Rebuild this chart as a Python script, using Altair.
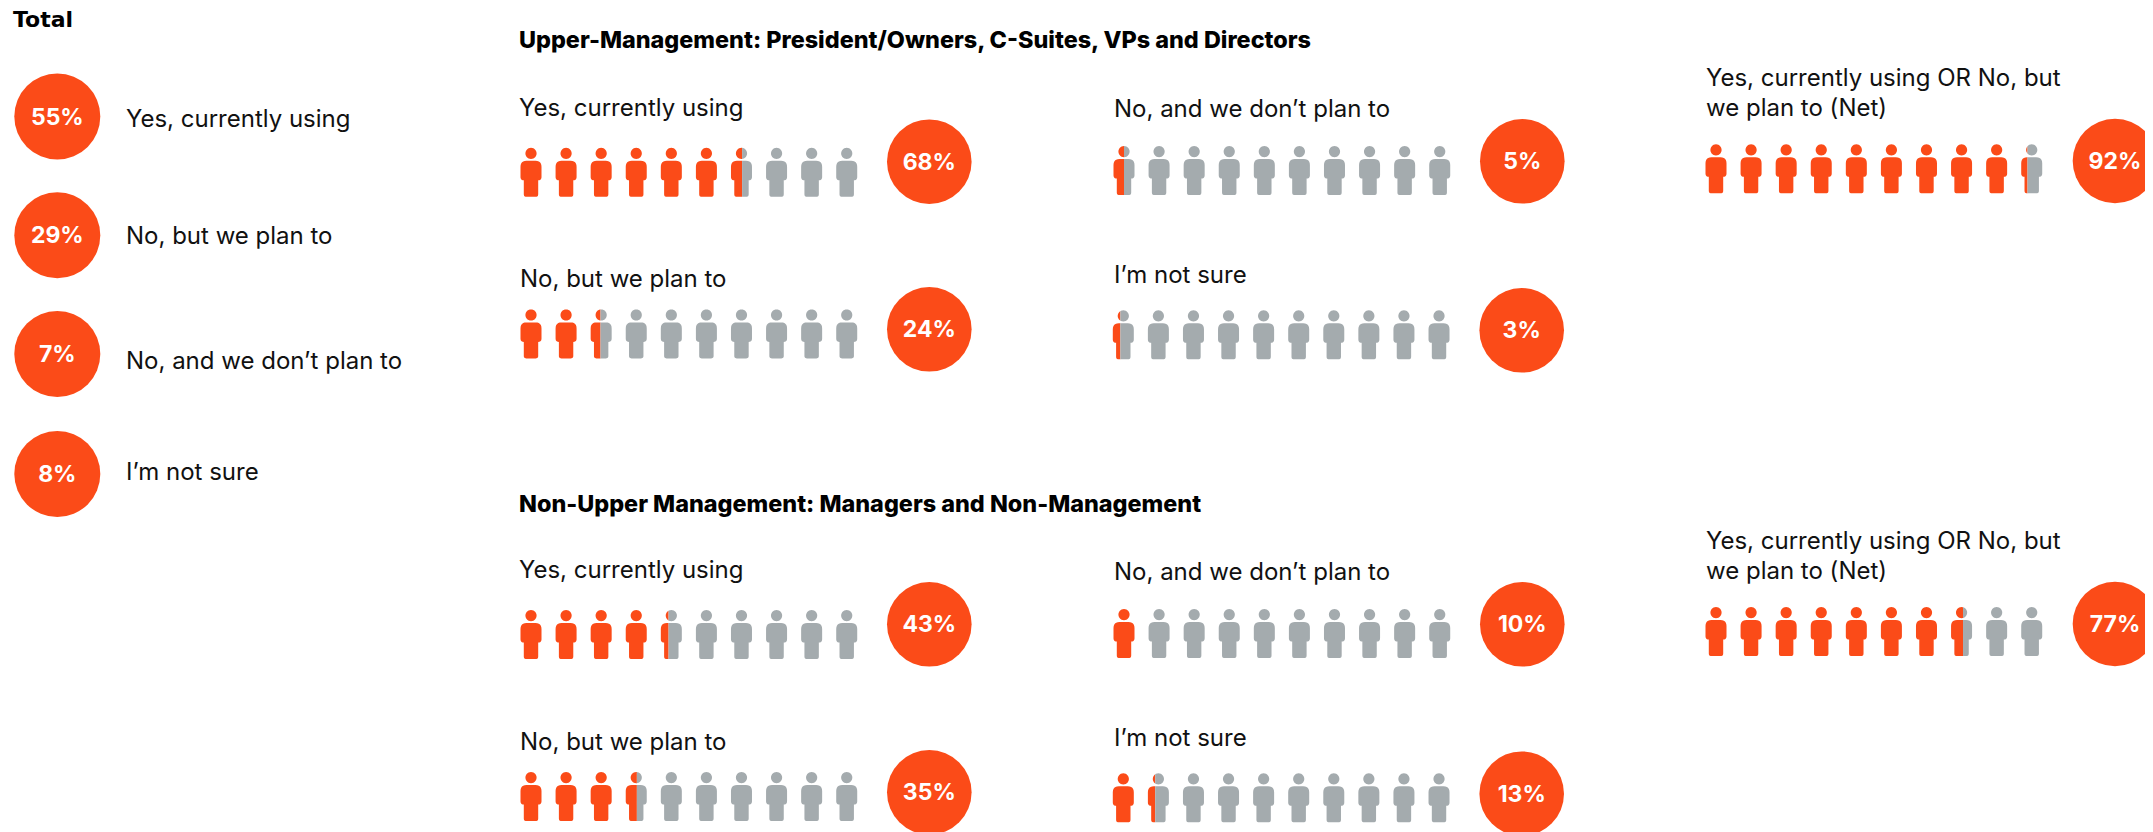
import math
import altair as alt
import pandas as pd

# ---------- values ----------
total_labels = ["Yes, currently using", "No, but we plan to", "No, and we don\u2019t plan to", "I\u2019m not sure"]
total_values = [55, 29, 7, 8]

group_titles = ["Upper-Management: President/Owners, C-Suites, VPs and Directors",
                "Non-Upper Management: Managers and Non-Management"]
panel_labels = ["Yes, currently using", "No, but we plan to", "No, and we don\u2019t plan to",
                "I\u2019m not sure", "Yes, currently using OR No, but|we plan to (Net)"]
upper_values = [68, 24, 5, 3, 92]
lower_values = [43, 35, 10, 13, 77]
# how many figures are orange (whole part) and how far the split figure is filled
upper_filled = [6.53, 2.47, 0.50, 0.36, 9.30]
lower_filled = [4.37, 3.53, 1.00, 1.35, 7.57]

# ---------- layout (kept apart from the values) ----------
ORANGE, GREY, INK = "#FB4B18", "#A4ABAE", "#111111"
FONT = "Inter"
W, H = 2137, 824
N_FIG, STEP = 10, 35.08
FIG_H = 49.0

# fig_x, head_top, circle_x, circle_y, label_x, label_baseline
upper_layout = [(531, 147.8, 929.3, 161.7, 519, 115.5),
                (531, 309.4, 929.3, 329.3, 520, 287),
                (1124, 146, 1522.3, 161.3, 1114, 117),
                (1123.3, 310.3, 1521.7, 330.3, 1114, 283),
                (1716, 144.3, 2115, 161, 1706, 85.5)]
lower_layout = [(531, 610, 929.3, 624.3, 519, 578),
                (531, 772, 929.3, 792.3, 520, 750),
                (1124, 609, 1522.3, 624.3, 1114, 580),
                (1123.3, 773.3, 1521.7, 793.7, 1114, 746),
                (1716, 607, 2115, 624, 1706, 549)]
title_pos = [(519, 48), (519, 512)]
total_y = [116.5, 235.3, 354, 474]
total_base = [126.5, 244, 368.5, 479.5]
LINE = 30


def rounded(corners, seg=6):
    pts = []
    n = len(corners)
    for i, (x, y, r) in enumerate(corners):
        if r == 0:
            pts.append((x, y))
            continue
        px, py, _ = corners[i - 1]
        qx, qy, _ = corners[(i + 1) % n]
        a = math.hypot(px - x, py - y)
        b = math.hypot(qx - x, qy - y)
        s = (x + (px - x) / a * r, y + (py - y) / a * r)
        e = (x + (qx - x) / b * r, y + (qy - y) / b * r)
        for k in range(seg + 1):
            t = k / seg
            pts.append(((1 - t) ** 2 * s[0] + 2 * t * (1 - t) * x + t ** 2 * e[0],
                        (1 - t) ** 2 * s[1] + 2 * t * (1 - t) * y + t ** 2 * e[1]))
    return pts


HEAD = [(5.6 * math.cos(2 * math.pi * k / 28), 5.6 + 5.6 * math.sin(2 * math.pi * k / 28)) for k in range(28)]
BODY = rounded([(-10.5, 13, 6), (10.5, 13, 6), (10.5, 32.5, 3.3), (7.2, 32.5, 0), (7.2, 49, 2.5),
                (-7.2, 49, 2.5), (-7.2, 32.5, 0), (-10.5, 32.5, 3.3)])


def clip(poly, c, keep_left):
    inside = (lambda p: p[0] <= c) if keep_left else (lambda p: p[0] >= c)
    out = []
    for i, p in enumerate(poly):
        q = poly[i - 1]
        if inside(p) != inside(q):
            t = (c - q[0]) / (p[0] - q[0])
            out.append((c, q[1] + t * (p[1] - q[1])))
        if inside(p):
            out.append(p)
    return out


def to_path(polys):
    parts = []
    for poly in polys:
        if len(poly) > 2:
            parts.append("M" + "L".join(f"{x / (FIG_H / 2):.4f},{(y - FIG_H / 2) / (FIG_H / 2):.4f}" for x, y in poly) + "Z")
    return "".join(parts)


FULL = to_path([HEAD, BODY])
fig_rows, circle_rows, label_rows = [], [], []


def add_panel(layout, label, value, filled):
    fx, top, cx, cy, lx, lb = layout
    cy_fig = top + FIG_H / 2
    for i in range(N_FIG):
        x = fx + i * STEP
        share = min(max(filled - i, 0), 1)
        if share >= 1:
            fig_rows.append(dict(x=x, y=cy_fig, state="on", path=FULL))
        elif share <= 0:
            fig_rows.append(dict(x=x, y=cy_fig, state="off", path=FULL))
        else:
            c = -10.5 + 21 * share
            fig_rows.append(dict(x=x, y=cy_fig, state="on", path=to_path([clip(HEAD, c, True), clip(BODY, c, True)])))
            fig_rows.append(dict(x=x, y=cy_fig, state="off", path=to_path([clip(HEAD, c, False), clip(BODY, c, False)])))
    circle_rows.append(dict(x=cx, y=cy, d=84.6 ** 2, pct=f"{value}%"))
    for j, line in enumerate(label.split("|")):
        label_rows.append(dict(x=lx, y=lb + j * LINE, text=line))


for k in range(5):
    add_panel(upper_layout[k], panel_labels[k], upper_values[k], upper_filled[k])
    add_panel(lower_layout[k], panel_labels[k], lower_values[k], lower_filled[k])

for lab, val, y, b in zip(total_labels, total_values, total_y, total_base):
    circle_rows.append(dict(x=57.3, y=y, d=86.0 ** 2, pct=f"{val}%"))
    label_rows.append(dict(x=126, y=b, text=lab))

title_rows = [dict(x=x, y=y, text=t) for (x, y), t in zip(title_pos, group_titles)]
total_title = [dict(x=13, y=27, text="Total")]

X = alt.X("x:Q", axis=None, scale=alt.Scale(domain=[8, 8 + W], nice=False, zero=False))
Y = alt.Y("y:Q", axis=None, scale=alt.Scale(domain=[8 + H, 8], nice=False, zero=False))

figures = alt.Chart(pd.DataFrame(fig_rows)).mark_point(filled=True, opacity=1, size=FIG_H ** 2, strokeWidth=0).encode(
    x=X, y=Y,
    shape=alt.Shape("path:N", scale=None),
    color=alt.Color("state:N", scale=alt.Scale(domain=["on", "off"], range=[ORANGE, GREY]), legend=None),
)
circle_df = pd.DataFrame(circle_rows)
circles = alt.Chart(circle_df).mark_circle(color=ORANGE, opacity=1).encode(
    x=X, y=Y, size=alt.Size("d:Q", scale=None))
pct = alt.Chart(circle_df).mark_text(font=FONT, fontWeight=700, fontSize=23, color="white", dy=1,
                                     align="center", baseline="middle").encode(x=X, y=Y, text="pct:N")
labels = alt.Chart(pd.DataFrame(label_rows)).mark_text(font=FONT, fontSize=24, color=INK, align="left",
                                                       baseline="alphabetic").encode(x=X, y=Y, text="text:N")
titles = alt.Chart(pd.DataFrame(title_rows)).mark_text(font=FONT, fontWeight=800, fontSize=23.4, color="#000000",
                                                       align="left", baseline="alphabetic").encode(x=X, y=Y, text="text:N")
total_mark = alt.Chart(pd.DataFrame(total_title)).mark_text(font="DejaVu Sans", fontWeight=700, fontSize=22, color="#000000",
                                                            align="left", baseline="alphabetic").encode(x=X, y=Y, text="text:N")

chart = alt.layer(figures, circles, pct, labels, titles, total_mark).properties(
    width=W, height=H, padding=0, autosize=alt.AutoSizeParams(type="none"), background="white"
).configure_view(stroke=None)

chart.save("out.html", embed_options={"renderer": "svg", "actions": False})
